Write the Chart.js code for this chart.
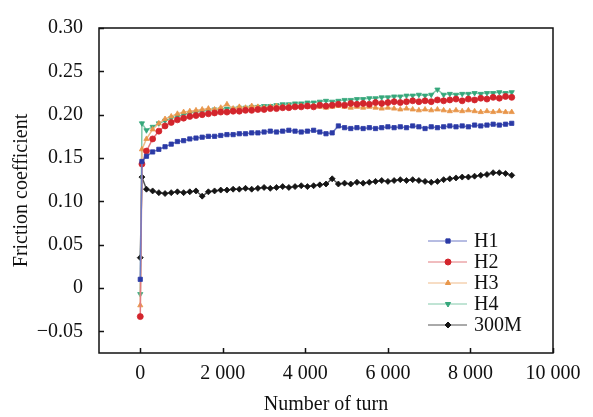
<!DOCTYPE html>
<html>
<head>
<meta charset="utf-8">
<script src="https://cdn.jsdelivr.net/npm/chart.js@4/dist/chart.umd.min.js"></script>
<style>
  html, body { margin: 0; padding: 0; background: #fff; }
  canvas { display: block; }
</style>
</head>
<body>
<canvas id="myChart" width="593" height="417"></canvas>
<script>
// number of turns (x values shared by every series)
var turns = [0, 40, 150, 300, 450, 600, 750, 900, 1050, 1200,
  1350, 1500, 1650, 1800, 1950, 2100, 2250, 2400, 2550, 2700,
  2850, 3000, 3150, 3300, 3450, 3600, 3750, 3900, 4050, 4200,
  4350, 4500, 4650, 4800, 4950, 5100, 5250, 5400, 5550, 5700,
  5850, 6000, 6150, 6300, 6450, 6600, 6750, 6900, 7050, 7200,
  7350, 7500, 7650, 7800, 7950, 8100, 8250, 8400, 8550, 8700,
  8850, 9000];

var seriesNames = ['H1', 'H2', 'H3', 'H4', '300M'];

var h1 = [0.010, 0.146, 0.152, 0.157, 0.160, 0.163, 0.166, 0.169, 0.170, 0.172,
  0.173, 0.174, 0.175, 0.175, 0.176, 0.177, 0.177, 0.178, 0.178, 0.179,
  0.179, 0.180, 0.181, 0.180, 0.181, 0.182, 0.181, 0.180, 0.181, 0.182,
  0.180, 0.178, 0.179, 0.187, 0.185, 0.184, 0.185, 0.184, 0.185, 0.184,
  0.185, 0.186, 0.185, 0.186, 0.185, 0.187, 0.186, 0.184, 0.186, 0.185,
  0.186, 0.187, 0.186, 0.187, 0.186, 0.188, 0.187, 0.188, 0.189, 0.188,
  0.189, 0.190];

var h2 = [-0.033, 0.143, 0.158, 0.172, 0.181, 0.187, 0.191, 0.194, 0.196, 0.198,
  0.199, 0.200, 0.201, 0.202, 0.203, 0.203, 0.204, 0.204, 0.205, 0.205,
  0.206, 0.206, 0.207, 0.207, 0.208, 0.208, 0.209, 0.209, 0.210, 0.209,
  0.211, 0.210, 0.211, 0.212, 0.211, 0.213, 0.212, 0.213, 0.212, 0.214,
  0.213, 0.214, 0.215, 0.214, 0.215, 0.216, 0.215, 0.216, 0.215, 0.217,
  0.216, 0.217, 0.218, 0.216, 0.218, 0.217, 0.219, 0.218, 0.220, 0.219,
  0.221, 0.220];

var h3 = [-0.020, 0.160, 0.172, 0.183, 0.190, 0.195, 0.198, 0.201, 0.203, 0.204,
  0.205, 0.206, 0.207, 0.206, 0.208, 0.212, 0.207, 0.209, 0.208, 0.210,
  0.209, 0.208, 0.209, 0.210, 0.209, 0.210, 0.209, 0.210, 0.209, 0.210,
  0.209, 0.208, 0.209, 0.210, 0.209, 0.208, 0.209, 0.208, 0.209, 0.208,
  0.207, 0.208, 0.207, 0.206, 0.207, 0.206, 0.205, 0.206, 0.205, 0.206,
  0.205, 0.204, 0.205, 0.204, 0.205, 0.204, 0.203, 0.204, 0.203, 0.204,
  0.203, 0.203];

var h4 = [-0.007, 0.190, 0.182, 0.186, 0.190, 0.193, 0.196, 0.198, 0.200, 0.202,
  0.203, 0.204, 0.205, 0.206, 0.206, 0.207, 0.207, 0.208, 0.208, 0.209,
  0.209, 0.210, 0.210, 0.211, 0.212, 0.212, 0.213, 0.213, 0.214, 0.214,
  0.215, 0.216, 0.215, 0.216, 0.217, 0.217, 0.218, 0.218, 0.219, 0.219,
  0.220, 0.220, 0.221, 0.221, 0.222, 0.222, 0.223, 0.222, 0.223, 0.229,
  0.223, 0.224, 0.223, 0.224, 0.224, 0.225, 0.224, 0.225, 0.225, 0.226,
  0.225, 0.226];

var m300 = [0.035, 0.128, 0.114, 0.112, 0.110, 0.109, 0.110, 0.111, 0.110, 0.111,
  0.112, 0.106, 0.111, 0.112, 0.113, 0.113, 0.114, 0.114, 0.115, 0.114,
  0.115, 0.116, 0.115, 0.116, 0.117, 0.116, 0.117, 0.118, 0.117, 0.118,
  0.119, 0.120, 0.126, 0.120, 0.121, 0.120, 0.122, 0.121, 0.122, 0.123,
  0.124, 0.123, 0.124, 0.125, 0.124, 0.125, 0.124, 0.123, 0.122, 0.123,
  0.125, 0.126, 0.127, 0.128, 0.128, 0.129, 0.130, 0.131, 0.133, 0.133,
  0.132, 0.130];

var xTicks = [0, 2000, 4000, 6000, 8000, 10000];
var xTickLabels = ['0', '2 000', '4 000', '6 000', '8 000', '10 000'];
var yTicks = [-0.05, 0, 0.05, 0.10, 0.15, 0.20, 0.25, 0.30];
var yTickLabels = ['\u22120.05', '0', '0.05', '0.10', '0.15', '0.20', '0.25', '0.30'];

var FONT = 'Liberation Serif, "Times New Roman", serif';

function toPoints(vals) {
    var pts = [];
    for (var i = 0; i < turns.length; i++) {
        pts.push({ x: turns[i], y: vals[i] });
    }
    return pts;
}

function makeSet(label, vals, color, lineColor, style, rot) {
    return {
        label: label,
        data: toPoints(vals),
        borderColor: lineColor,
        backgroundColor: color,
        pointBackgroundColor: color,
        pointBorderColor: color,
        borderWidth: 1.5,
        pointRadius: 3,
        pointBorderWidth: 0.8,
        pointStyle: style,
        pointRotation: rot || 0,
        tension: 0
    };
}

// box, inward ticks and the legend inside the plot
var framePlugin = {
    id: 'frame',
    afterDraw: function(chart) {
        var ctx = chart.ctx;
        var a = chart.chartArea;
        var xs = chart.scales.x, ys = chart.scales.y;
        ctx.save();
        ctx.strokeStyle = '#111';
        ctx.lineWidth = 1.5;
        ctx.strokeRect(a.left, a.top, a.right - a.left, a.bottom - a.top);
        ctx.beginPath();
        xTicks.forEach(function(v) {
            var px = Math.round(xs.getPixelForValue(v)) + 0.5;
            ctx.moveTo(px, a.bottom);
            ctx.lineTo(px, a.bottom - 5);
        });
        yTicks.forEach(function(v) {
            var py = Math.round(ys.getPixelForValue(v)) + 0.5;
            ctx.moveTo(a.left, py);
            ctx.lineTo(a.left + 5, py);
        });
        ctx.stroke();

        // legend
        var x0 = a.left + 329, y0 = a.top + 213;
        ctx.font = '20px ' + FONT;
        ctx.textBaseline = 'middle';
        ctx.textAlign = 'left';
        chart.data.datasets.forEach(function(ds, i) {
            var y = y0 + i * 21;
            ctx.strokeStyle = ds.borderColor;
            ctx.lineWidth = 1;
            ctx.beginPath();
            ctx.moveTo(x0, y);
            ctx.lineTo(x0 + 39, y);
            ctx.stroke();
            ctx.fillStyle = ds.pointBackgroundColor;
            ctx.strokeStyle = ds.pointBorderColor;
            Chart.helpers.drawPoint(ctx, {
                pointStyle: ds.pointStyle,
                radius: 3,
                rotation: ds.pointRotation,
                borderWidth: 0.5
            }, x0 + 20, y);
            ctx.fillStyle = '#111';
            ctx.fillText(ds.label, x0 + 46, y + 1);
        });
        ctx.restore();
    }
};

var ctx = document.getElementById('myChart').getContext('2d');
var myChart = new Chart(ctx, {
    type: 'line',
    data: {
        datasets: [
            makeSet(seriesNames[0], h1, '#2b3aa6', '#6f7bc6', 'rect'),
            makeSet(seriesNames[1], h2, '#d3252c', '#e27b7e', 'circle'),
            makeSet(seriesNames[2], h3, '#e8964a', '#efbb8a', 'triangle'),
            makeSet(seriesNames[3], h4, '#35a77b', '#82c9aa', 'triangle', 180),
            makeSet(seriesNames[4], m300, '#151515', '#555555', 'rectRot')
        ]
    },
    options: {
        responsive: false,
        animation: false,
        devicePixelRatio: 1,
        layout: {
            padding: { left: 0, right: 40, top: 20, bottom: 0 }
        },
        plugins: {
            legend: { display: false },
            tooltip: { enabled: false }
        },
        scales: {
            x: {
                type: 'linear',
                min: -1000,
                max: 10000,
                afterBuildTicks: function(scale) {
                    scale.ticks = xTicks.map(function(v) { return { value: v }; });
                },
                afterFit: function(scale) { scale.height = 64; },
                border: { display: false },
                grid: { display: false, drawTicks: false },
                ticks: {
                    autoSkip: false,
                    maxRotation: 0,
                    padding: 9,
                    color: '#111',
                    font: { family: FONT, size: 20 },
                    callback: function(v) {
                        var i = xTicks.indexOf(v);
                        return i >= 0 ? xTickLabels[i] : '';
                    }
                },
                title: {
                    display: true,
                    text: 'Number of turn',
                    color: '#111',
                    font: { family: FONT, size: 20 },
                    padding: { top: 0, bottom: 0 }
                }
            },
            y: {
                type: 'linear',
                min: -0.075,
                max: 0.30,
                afterBuildTicks: function(scale) {
                    scale.ticks = yTicks.map(function(v) { return { value: v }; });
                },
                afterFit: function(scale) { scale.width = 99; },
                border: { display: false },
                grid: { display: false, drawTicks: false },
                ticks: {
                    autoSkip: false,
                    padding: 16,
                    color: '#111',
                    font: { family: FONT, size: 20 },
                    callback: function(v) {
                        for (var i = 0; i < yTicks.length; i++) {
                            if (Math.abs(yTicks[i] - v) < 1e-9) return yTickLabels[i];
                        }
                        return '';
                    }
                },
                title: {
                    display: true,
                    text: 'Friction coefficient',
                    color: '#111',
                    font: { family: FONT, size: 20 },
                    padding: { top: 10, bottom: 0 }
                }
            }
        }
    },
    plugins: [framePlugin]
});
</script>
</body>
</html>
